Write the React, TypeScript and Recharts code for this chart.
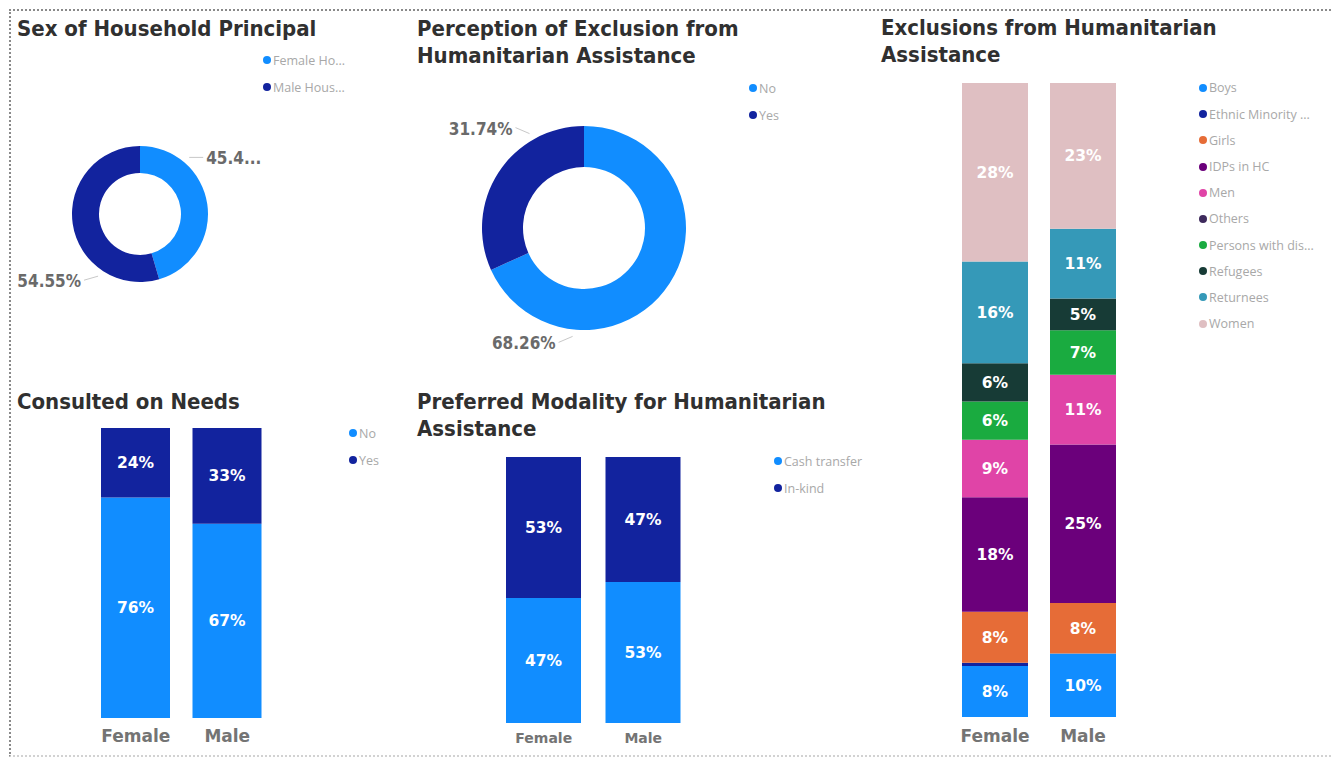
import React from "react";
import { PieChart, Pie, Cell, BarChart, Bar, XAxis, YAxis, LabelList } from "recharts";

const LIGHT_BLUE = "#118DFF";
const DARK_BLUE = "#12239E";

const genders = ["Female", "Male"];

// Sex of household principal
const principalNames = ["Female Household", "Male Household"];
const principalShares = [45.45, 54.55];

// Perception of exclusion
const perceptionNames = ["No", "Yes"];
const perceptionShares = [68.26, 31.74];

// Consulted on needs (female, male)
const consultedNames = ["No", "Yes"];
const consultedNo = [76, 67];
const consultedYes = [24, 33];

// Preferred modality (female, male)
const modalityNames = ["Cash transfer", "In-kind"];
const modalityCash = [47, 53];
const modalityInKind = [53, 47];

// Excluded groups (female, male)
const groupNames = [
  "Boys",
  "Ethnic Minority Groups",
  "Girls",
  "IDPs in HC",
  "Men",
  "Others",
  "Persons with disabilities",
  "Refugees",
  "Returnees",
  "Women",
];
const groupFemale = [8, 0.5, 8, 18, 9, 0, 6, 6, 16, 28];
const groupMale = [10, 0, 8, 25, 11, 0, 7, 5, 11, 23];
const groupColors = [
  "#118DFF",
  "#12239E",
  "#E66C37",
  "#6B007B",
  "#E044A7",
  "#3E2A5C",
  "#1AAB40",
  "#173B36",
  "#3599B8",
  "#DFBFC2",
];

const TITLE_FONT = "'DejaVu Sans Condensed', 'DejaVu Sans', sans-serif";

const buildRows = (keys: string[], series: number[][]) =>
  genders.map((g, i) => {
    const row: Record<string, any> = { name: g };
    keys.forEach((k, j) => {
      row[k] = series[j][i];
    });
    return row;
  });

const Title = ({ lines, left, top }: { lines: string[]; left: number; top: number }) => (
  <div
    style={{
      position: "absolute",
      left,
      top,
      fontFamily: TITLE_FONT,
      fontStretch: "condensed",
      fontWeight: 700,
      fontSize: 22,
      lineHeight: "27px",
      color: "#303030",
      whiteSpace: "nowrap",
    }}
  >
    {lines.map((l) => (
      <div key={l}>{l}</div>
    ))}
  </div>
);

const LegendList = ({
  names,
  colors,
  x,
  y,
  step,
  maxChars = 40,
}: {
  names: string[];
  colors: string[];
  x: number;
  y: number;
  step: number;
  maxChars?: number;
}) => (
  <div style={{ position: "absolute", left: x - 4, top: y - step / 2 }}>
    {names.map((n, i) => (
      <div
        key={n}
        style={{
          height: step,
          display: "flex",
          alignItems: "center",
          fontFamily: "'Open Sans', sans-serif",
          fontSize: 12.5,
          color: "#a8a8a8",
          whiteSpace: "nowrap",
        }}
      >
        <span
          style={{
            width: 8,
            height: 8,
            borderRadius: 4,
            background: colors[i],
            marginRight: 2,
            display: "inline-block",
          }}
        />
        {n.length > maxChars ? n.slice(0, maxChars) + "..." : n}
      </div>
    ))}
  </div>
);

type DonutProps = {
  names: string[];
  values: number[];
  left: number;
  top: number;
  width: number;
  height: number;
  cx: number;
  cy: number;
  inner: number;
  outer: number;
  labelAngles: number[];
  labelDy: number[];
  clipRight?: number;
};

const Donut = ({ names, values, left, top, width, height, cx, cy, inner, outer, labelAngles, labelDy, clipRight }: DonutProps) => {
  const data = names.map((n, i) => ({ name: n, value: values[i] }));
  const colors = [LIGHT_BLUE, DARK_BLUE];

  // outside labels with a short leader line, like the dashboard's donuts
  const renderLabel = (p: any) => {
    const a = (labelAngles[p.index] * Math.PI) / 180;
    const r = p.outerRadius + 7;
    const x1 = p.cx + r * Math.cos(a);
    const y1 = p.cy - r * Math.sin(a);
    const right = Math.cos(a) >= 0;
    const x2 = x1 + (right ? 14 : -14);
    const y2 = y1 + labelDy[p.index];
    let text = `${Number(p.value).toFixed(2)}%`;
    if (right && clipRight && text.length > clipRight) text = text.slice(0, clipRight) + "...";
    return (
      <g key={`lbl-${p.index}`}>
        <polyline points={`${x1},${y1} ${x2},${y2}`} stroke="#c8c8c8" strokeWidth={1} fill="none" />
        <text
          x={x2 + (right ? 3 : -3)}
          y={y2 + 1}
          textAnchor={right ? "start" : "end"}
          dominantBaseline="central"
          fontFamily={TITLE_FONT}
          fontWeight={700}
          fontSize={17}
          fill="#6a6a6a"
        >
          {text}
        </text>
      </g>
    );
  };

  return (
    <div style={{ position: "absolute", left, top }}>
      <PieChart width={width} height={height} margin={{ top: 0, right: 0, bottom: 0, left: 0 }}>
        <Pie
          data={data}
          dataKey="value"
          nameKey="name"
          cx={cx}
          cy={cy}
          innerRadius={inner}
          outerRadius={outer}
          startAngle={90}
          endAngle={-270}
          stroke="none"
          label={renderLabel}
          labelLine={false}
          isAnimationActive={false}
        >
          {data.map((d, i) => (
            <Cell key={d.name} fill={colors[i]} />
          ))}
        </Pie>
      </PieChart>
    </div>
  );
};

type StackProps = {
  keys: string[];
  series: number[][];
  colors: string[];
  left: number;
  top: number;
  width: number;
  height: number;
  barSize: number;
  tickFont: number;
  tickGap: number;
};

const StackedBars = ({ keys, series, colors, left, top, width, height, barSize, tickFont, tickGap }: StackProps) => {
  const rows = buildRows(keys, series);
  return (
    <div style={{ position: "absolute", left, top }}>
      <BarChart
        width={width}
        height={height + 30}
        data={rows}
        stackOffset="expand"
        margin={{ top: 0, right: 0, bottom: 0, left: 0 }}
      >
        <XAxis
          dataKey="name"
          axisLine={false}
          tickLine={false}
          height={30}
          interval={0}
          tickMargin={tickGap}
          tick={{ fill: "#747474", fontSize: tickFont, fontWeight: 700, fontFamily: "'DejaVu Sans', sans-serif" }}
        />
        <YAxis hide domain={[0, 1]} />
        {keys.map((k, i) => (
          <Bar key={k} dataKey={k} stackId="s" fill={colors[i]} barSize={barSize} isAnimationActive={false}>
            <LabelList
              dataKey={k}
              position="center"
              fill="#ffffff"
              fontSize={15.5}
              fontWeight={700}
              fontFamily="'DejaVu Sans', sans-serif"
              formatter={(v: any) => (Number(v) >= 1 ? `${Math.round(Number(v))}%` : "")}
            />
          </Bar>
        ))}
      </BarChart>
    </div>
  );
};

export default function App() {
  const groupSeries = groupNames.map((_, j) => [groupFemale[j], groupMale[j]]);
  return (
    <div
      style={{
        position: "absolute",
        left: 0,
        top: 0,
        width: 1333,
        height: 758,
        background: "#ffffff",
        overflow: "hidden",
        fontFamily: "'Open Sans', sans-serif",
      }}
    >
      <div
        style={{
          position: "absolute",
          left: 9,
          top: 9,
          width: 1340,
          height: 744,
          borderTop: "2px dotted #8a8a8a",
          borderLeft: "2px dotted #8a8a8a",
          borderBottom: "2px dotted #d2d2d2",
        }}
      />

      <Title lines={["Sex of Household Principal"]} left={17} top={15} />
      <LegendList names={principalNames} colors={[LIGHT_BLUE, DARK_BLUE]} x={267} y={60} step={27} maxChars={9} />
      <Donut
        names={principalNames}
        values={principalShares}
        left={10}
        top={60}
        width={390}
        height={300}
        cx={130}
        cy={154}
        inner={41}
        outer={68}
        labelAngles={[49, -124]}
        labelDy={[0, 4]}
        clipRight={4}
      />

      <Title lines={["Perception of Exclusion from", "Humanitarian Assistance"]} left={417} top={15} />
      <LegendList names={perceptionNames} colors={[LIGHT_BLUE, DARK_BLUE]} x={753} y={88} step={27} />
      <Donut
        names={perceptionNames}
        values={perceptionShares}
        left={410}
        top={90}
        width={450}
        height={290}
        cx={174}
        cy={138}
        inner={61}
        outer={102}
        labelAngles={[-96, 120]}
        labelDy={[6, -6]}
      />

      <Title lines={["Exclusions from Humanitarian", "Assistance"]} left={881} top={14} />
      <LegendList names={groupNames} colors={groupColors} x={1203} y={88} step={26.2} maxChars={16} />
      <StackedBars
        keys={groupNames}
        series={groupSeries}
        colors={groupColors}
        left={951}
        top={83}
        width={176}
        height={634}
        barSize={66}
        tickFont={17}
        tickGap={7}
      />

      <Title lines={["Consulted on Needs"]} left={17} top={388} />
      <LegendList names={consultedNames} colors={[LIGHT_BLUE, DARK_BLUE]} x={353} y={433} step={27} />
      <StackedBars
        keys={consultedNames}
        series={[consultedNo, consultedYes]}
        colors={[LIGHT_BLUE, DARK_BLUE]}
        left={90}
        top={428}
        width={183}
        height={290}
        barSize={69}
        tickFont={17}
        tickGap={6}
      />

      <Title lines={["Preferred Modality for Humanitarian", "Assistance"]} left={417} top={388} />
      <LegendList names={modalityNames} colors={[LIGHT_BLUE, DARK_BLUE]} x={778} y={461} step={27} />
      <StackedBars
        keys={modalityNames}
        series={[modalityCash, modalityInKind]}
        colors={[LIGHT_BLUE, DARK_BLUE]}
        left={494}
        top={457}
        width={199}
        height={266}
        barSize={75}
        tickFont={14}
        tickGap={4}
      />
    </div>
  );
}
